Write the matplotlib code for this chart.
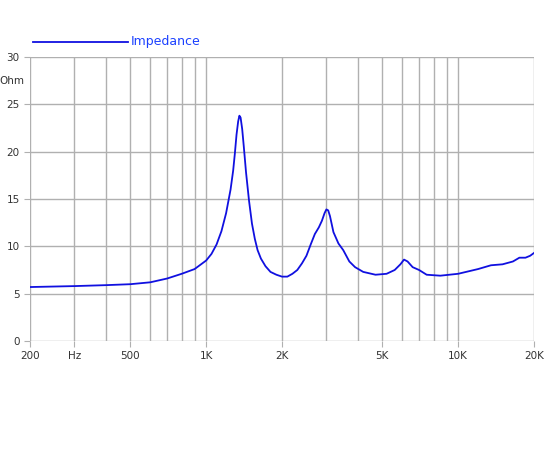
import matplotlib.pyplot as plt
import numpy as np

freq = [200, 300, 400, 500, 600, 700, 800, 900, 1000, 1050, 1100, 1150, 1200, 1250,
        1280, 1300, 1320, 1340, 1355, 1370, 1390, 1410, 1440, 1480, 1520, 1560, 1600,
        1650, 1720, 1800, 1900, 2000, 2100, 2200, 2300, 2400, 2500, 2600, 2700, 2800,
        2880, 2950, 3000, 3050, 3100, 3200, 3350, 3500, 3700, 3900, 4200, 4700, 5200,
        5600, 5900, 6100, 6300, 6600, 7000, 7500, 8500, 10000, 12000, 13500, 15000,
        16500, 17500, 18500, 19300, 20000]
ohm = [5.7, 5.8, 5.9, 6.0, 6.2, 6.6, 7.1, 7.6, 8.5, 9.2, 10.2, 11.6, 13.5, 16.0,
       18.0, 19.8, 21.8, 23.2, 23.8, 23.6, 22.4, 20.6, 17.8, 14.8, 12.4, 10.8, 9.6,
       8.7, 7.9, 7.3, 7.0, 6.8, 6.8, 7.1, 7.5, 8.2, 9.0, 10.2, 11.3, 12.0,
       12.7, 13.5, 13.9, 13.8, 13.2, 11.5, 10.3, 9.6, 8.4, 7.8, 7.3, 7.0, 7.1,
       7.5, 8.1, 8.6, 8.4, 7.8, 7.5, 7.0, 6.9, 7.1, 7.6, 8.0, 8.1,
       8.4, 8.8, 8.8, 9.0, 9.3]
xticks = [200, 300, 500, 1000, 2000, 5000, 10000, 20000]
xlabels = ["200", "Hz", "500", "1K", "2K", "5K", "10K", "20K"]
grid_x = [200, 300, 400, 500, 600, 700, 800, 900, 1000, 2000, 3000, 4000, 5000,
          6000, 7000, 8000, 9000, 10000, 20000]

fig = plt.figure(figsize=(5.5, 4.5), dpi=100)
ax = fig.add_axes([30/550, 1-341/450, 504/550, 284/450])
ax.set_xscale("log")
ax.set_xlim(200, 20000)
ax.set_ylim(0, 30)
for g in grid_x:
    ax.axvline(g, color="#b0b0b0", lw=1, zorder=0)
for y in range(0, 31, 5):
    ax.axhline(y, color="#b0b0b0", lw=1, zorder=0)
ax.plot(freq, ohm, color="#1010e0", lw=1.3)
ax.set_xticks(xticks)
ax.set_xticklabels(xlabels)
ax.xaxis.set_minor_locator(plt.NullLocator())
ax.set_yticks(range(0, 31, 5))
ax.tick_params(labelsize=7.5, length=4, color="#b0b0b0", colors="#333333")
for s in ax.spines.values():
    s.set_visible(False)
ax.text(-0.012, 27.5, "Ohm", transform=ax.get_yaxis_transform(), ha="right",
        va="center", fontsize=7.5, color="#333333")
fig.lines.append(plt.Line2D([33/550, 128/550], [1-42/450, 1-42/450], color="#1010e0",
                            lw=1.3, transform=fig.transFigure))
fig.text(131/550, 1-42/450, "Impedance", color="#1a40ff", fontsize=9, va="center")
fig.savefig("out.png")
